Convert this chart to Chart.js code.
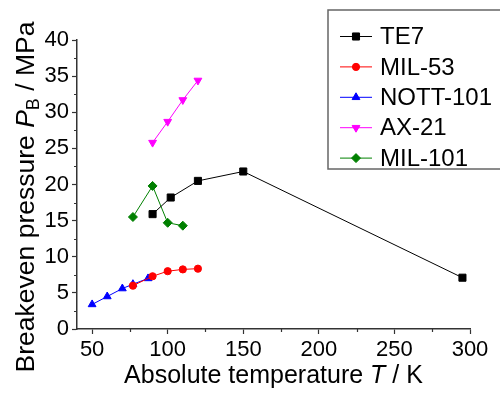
<!DOCTYPE html>
<html>
<head>
<meta charset="utf-8">
<script src="https://cdn.jsdelivr.net/npm/chart.js@4/dist/chart.umd.min.js"></script>
<style>
  html, body { margin: 0; padding: 0; background: #fff; }
  #wrap { width: 500px; height: 394px; }
</style>
</head>
<body>
<div id="wrap"><canvas id="myChart" width="500" height="394"></canvas></div>
<script>
// temperatures (K) and breakeven pressures (MPa)
const te7T = [90, 102, 120, 150, 295];
const te7P = [15.9, 18.2, 20.5, 21.8, 7.1];
const mil53T = [77, 90, 100, 110, 120];
const mil53P = [6.0, 7.3, 8.0, 8.25, 8.35];
const nottT = [50, 60, 70, 77, 87];
const nottP = [3.4, 4.5, 5.6, 6.2, 7.0];
const ax21T = [90, 100, 110, 120];
const ax21P = [25.8, 28.7, 31.7, 34.4];
const mil101T = [77, 90, 100, 110];
const mil101P = [15.5, 19.8, 14.7, 14.3];

const seriesNames = ['TE7', 'MIL-53', 'NOTT-101', 'AX-21', 'MIL-101'];
const xTicks = [50, 100, 150, 200, 250, 300];
const xMinor = [75, 125, 175, 225, 275];
const yMinor = [2.5, 7.5, 12.5, 17.5, 22.5, 27.5, 32.5, 37.5];

const FONT = '"Liberation Sans", Arial, sans-serif';
const AXIS = '#333';

function pts(xs, ys) {
    return xs.map((x, i) => ({ x: x, y: ys[i] }));
}

function series(label, xs, ys, color, style, radius, rotation) {
    return {
        label: label,
        data: pts(xs, ys),
        showLine: true,
        borderColor: color,
        backgroundColor: color,
        borderWidth: 1,
        pointStyle: style,
        pointRadius: radius,
        pointRotation: rotation || 0,
        pointBorderWidth: 1,
        pointBorderColor: color,
        pointBackgroundColor: color,
        clip: false,
    };
}

const datasets = [
    series(seriesNames[0], te7T, te7P, '#000000', 'rect', 5),
    series(seriesNames[1], mil53T, mil53P, '#ff0000', 'circle', 3.6),
    series(seriesNames[2], nottT, nottP, '#0000ff', 'triangle', 4.5),
    series(seriesNames[3], ax21T, ax21P, '#ff00ff', 'triangle', 4.5, 180),
    series(seriesNames[4], mil101T, mil101P, '#008000', 'rectRot', 4.5),
];

function marker(ctx, ds, x, y) {
    const opts = {
        pointStyle: ds.pointStyle,
        radius: ds.pointRadius,
        rotation: ds.pointRotation,
        borderWidth: 1,
    };
    ctx.save();
    ctx.fillStyle = ds.pointBackgroundColor;
    ctx.strokeStyle = ds.pointBorderColor;
    ctx.lineWidth = 1;
    Chart.helpers.drawPoint(ctx, opts, x, y);
    ctx.restore();
}

const decor = {
    id: 'decor',
    afterDraw(chart) {
        const ctx = chart.ctx;
        const xs = chart.scales.x, ys = chart.scales.y;
        const area = chart.chartArea;

        // minor ticks
        ctx.save();
        ctx.strokeStyle = AXIS;
        ctx.lineWidth = 1.2;
        ctx.beginPath();
        xMinor.forEach(v => {
            const px = Math.round(xs.getPixelForValue(v)) + 0.5;
            ctx.moveTo(px, area.bottom);
            ctx.lineTo(px, area.bottom + 3);
        });
        yMinor.forEach(v => {
            const py = Math.round(ys.getPixelForValue(v)) + 0.5;
            ctx.moveTo(area.left, py);
            ctx.lineTo(area.left - 3, py);
        });
        ctx.stroke();
        ctx.restore();

        // axis titles
        ctx.save();
        ctx.fillStyle = '#000';
        ctx.textBaseline = 'alphabetic';
        const normal = '25px ' + FONT;
        const italic = 'italic 25px ' + FONT;

        // x title
        const parts = [['Absolute temperature ', normal], ['T', italic], [' / K', normal]];
        let total = 0;
        parts.forEach(p => { ctx.font = p[1]; total += ctx.measureText(p[0]).width; });
        let cx = (area.left + area.right) / 2 - total / 2;
        parts.forEach(p => {
            ctx.font = p[1];
            ctx.fillText(p[0], cx, 383);
            cx += ctx.measureText(p[0]).width;
        });

        // y title, rotated
        const yn = '26.5px ' + FONT;
        const yi = 'italic 26.5px ' + FONT;
        const ysub = '18px ' + FONT;
        const yparts = [['Breakeven pressure ', yn, 0], ['P', yi, 0], ['B', ysub, 5], [' / MPa', yn, 0]];
        total = 0;
        yparts.forEach(p => { ctx.font = p[1]; total += ctx.measureText(p[0]).width; });
        ctx.translate(34, 197);
        ctx.rotate(-Math.PI / 2);
        cx = -total / 2;
        yparts.forEach(p => {
            ctx.font = p[1];
            ctx.fillText(p[0], cx, p[2]);
            cx += ctx.measureText(p[0]).width;
        });
        ctx.restore();

        // legend box
        ctx.save();
        ctx.fillStyle = '#fff';
        ctx.fillRect(328, 10, 180, 159);
        ctx.strokeStyle = '#666';
        ctx.lineWidth = 1.5;
        ctx.strokeRect(328, 10, 180, 159);
        ctx.font = '24px ' + FONT;
        ctx.textBaseline = 'middle';
        chart.data.datasets.forEach((ds, i) => {
            const y = 36.5 + i * 30.4;
            ctx.strokeStyle = ds.borderColor;
            ctx.lineWidth = 1;
            ctx.beginPath();
            ctx.moveTo(340, y);
            ctx.lineTo(372, y);
            ctx.stroke();
            marker(ctx, ds, 356, y);
            ctx.fillStyle = '#000';
            ctx.fillText(ds.label, 380, y + 1);
        });
        ctx.restore();
    }
};

const config = {
    type: 'scatter',
    data: { datasets },
    options: {
        responsive: false,
        animation: false,
        layout: { padding: { top: 40, right: 30, left: 0, bottom: 0 } },
        plugins: {
            legend: { display: false },
            tooltip: { enabled: false },
        },
        scales: {
            x: {
                type: 'linear',
                min: 40,
                max: 300,
                afterBuildTicks: (s) => { s.ticks = xTicks.map(v => ({ value: v })); },
                afterFit: (s) => { s.height = 65; },
                grid: { display: true, drawOnChartArea: false, tickLength: 5, tickColor: AXIS, tickWidth: 1.2 },
                border: { display: true, color: AXIS, width: 1.5 },
                ticks: { color: '#000', font: { family: FONT, size: 22 }, padding: 3, maxRotation: 0 },
            },
            y: {
                min: 0,
                max: 40,
                ticks: { stepSize: 5, color: '#000', font: { family: FONT, size: 22 }, padding: 3 },
                afterFit: (s) => { s.width = 77; },
                grid: { display: true, drawOnChartArea: false, tickLength: 5, tickColor: AXIS, tickWidth: 1.2 },
                border: { display: true, color: AXIS, width: 1.5 },
            },
        },
    },
    plugins: [decor],
};

const ctx = document.getElementById('myChart').getContext('2d');
const chart = new Chart(ctx, config);
</script>
</body>
</html>
